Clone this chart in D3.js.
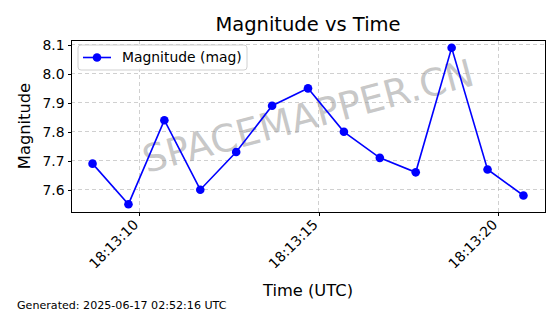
<!DOCTYPE html>
<html>
<head>
<meta charset="utf-8" />
<title>Magnitude vs Time</title>
<script src="https://d3js.org/d3.v7.min.js"></script>
<style>
    body { margin: 0; background: #fff; font-family: "DejaVu Sans", sans-serif; }
    .axis path, .axis line { stroke: #000; shape-rendering: crispEdges; }
    .axis text { fill: #000; font-size: 13.9px; font-family: "DejaVu Sans", sans-serif; }
    .grid line { stroke: #b0b0b0; stroke-opacity: 0.6; stroke-dasharray: 4 3; shape-rendering: crispEdges; }
</style>
</head>
<body>
<div id="chart"></div>
<script>
    // seconds after 18:13:00 UTC
    var times = [8.7, 9.7, 10.7, 11.7, 12.7, 13.7, 14.7, 15.7, 16.7, 17.7, 18.7, 19.7, 20.7];
    var magnitudes = [7.69, 7.55, 7.84, 7.60, 7.73, 7.89, 7.95, 7.80, 7.71, 7.66, 8.09, 7.67, 7.58];
    var xTicks = [10, 15, 20];
    var yTicks = [7.6, 7.7, 7.8, 7.9, 8.0, 8.1];

    var base = Date.UTC(2025, 5, 16, 18, 13, 0);
    var data = times.map(function (t, i) {
        return { time: new Date(base + t * 1000), mag: magnitudes[i] };
    });

    var W = 560, H = 314;
    var margin = { top: 40, right: 15, bottom: 102, left: 71 };
    var width = W - margin.left - margin.right,
        height = H - margin.top - margin.bottom;

    var svg = d3.select("#chart").append("svg")
        .attr("width", W).attr("height", H);

    var g = svg.append("g")
        .attr("transform", "translate(" + margin.left + "," + margin.top + ")");

    // matplotlib style 5% margins
    var tExt = d3.extent(data, function (d) { return +d.time; });
    var tPad = (tExt[1] - tExt[0]) * 0.05;
    var x = d3.scaleUtc()
        .domain([new Date(tExt[0] - tPad), new Date(tExt[1] + tPad)])
        .range([0, width]);

    var mExt = d3.extent(magnitudes);
    var mPad = (mExt[1] - mExt[0]) * 0.05;
    var y = d3.scaleLinear()
        .domain([mExt[0] - mPad, mExt[1] + mPad])
        .range([height, 0]);

    var xTickDates = xTicks.map(function (s) { return new Date(base + s * 1000); });

    // grid
    g.append("g").attr("class", "grid")
        .selectAll("line").data(xTickDates).enter().append("line")
        .attr("x1", function (d) { return x(d); }).attr("x2", function (d) { return x(d); })
        .attr("y1", 0).attr("y2", height);
    g.append("g").attr("class", "grid")
        .selectAll("line").data(yTicks).enter().append("line")
        .attr("y1", function (d) { return y(d); }).attr("y2", function (d) { return y(d); })
        .attr("x1", 0).attr("x2", width);

    // watermark
    g.append("text")
        .attr("transform", "translate(" + (width / 2) + "," + (height / 2 - 10) + ") rotate(-15)")
        .attr("text-anchor", "middle")
        .attr("dy", "0.35em")
        .style("font-size", "38px")
        .style("fill", "#999")
        .style("fill-opacity", 0.55)
        .text("SPACEMAPPER.CN");

    // axes
    var xAxis = d3.axisBottom(x).tickValues(xTickDates)
        .tickFormat(d3.utcFormat("%H:%M:%S")).tickSize(3.5).tickPadding(3);
    var gx = g.append("g").attr("class", "axis")
        .attr("transform", "translate(0," + height + ")")
        .call(xAxis);
    gx.selectAll("text")
        .attr("text-anchor", "end")
        .attr("dy", "0.35em")
        .attr("transform", "translate(-4,10) rotate(-45)")
        .attr("y", 0).attr("x", 0);

    var yAxis = d3.axisLeft(y).tickValues(yTicks)
        .tickFormat(d3.format(".1f")).tickSize(3.5).tickPadding(3);
    g.append("g").attr("class", "axis").call(yAxis);

    g.selectAll(".axis .domain").remove();
    g.append("rect")
        .attr("width", width).attr("height", height)
        .attr("fill", "none").attr("stroke", "#000").attr("stroke-width", 1)
        .style("shape-rendering", "crispEdges");

    // line + markers
    var line = d3.line()
        .x(function (d) { return x(d.time); })
        .y(function (d) { return y(d.mag); });
    g.append("path").datum(data)
        .attr("d", line)
        .attr("fill", "none").attr("stroke", "#0000ff").attr("stroke-width", 1.6);
    g.selectAll(".dot").data(data).enter().append("circle")
        .attr("class", "dot")
        .attr("cx", function (d) { return x(d.time); })
        .attr("cy", function (d) { return y(d.mag); })
        .attr("r", 4.3)
        .attr("fill", "#0000ff");

    // legend
    var lg = g.append("g").attr("transform", "translate(7,5)");
    lg.append("rect").attr("width", 169).attr("height", 25).attr("rx", 3)
        .attr("fill", "#fff").attr("fill-opacity", 0.8)
        .attr("stroke", "#d0d0d0");
    lg.append("line").attr("x1", 5).attr("x2", 33).attr("y1", 12.5).attr("y2", 12.5)
        .attr("stroke", "#0000ff").attr("stroke-width", 1.6);
    lg.append("circle").attr("cx", 19).attr("cy", 12.5).attr("r", 4.3).attr("fill", "#0000ff");
    lg.append("text").attr("x", 44).attr("y", 12.5).attr("dy", "0.35em")
        .style("font-size", "13.9px").text("Magnitude (mag)");

    // titles
    svg.append("text")
        .attr("x", margin.left + width / 2).attr("y", 31)
        .attr("text-anchor", "middle")
        .style("font-size", "19.5px")
        .text("Magnitude vs Time");
    svg.append("text")
        .attr("x", margin.left + width / 2).attr("y", 296)
        .attr("text-anchor", "middle")
        .style("font-size", "16.3px")
        .text("Time (UTC)");
    svg.append("text")
        .attr("transform", "translate(30," + (margin.top + height / 2) + ") rotate(-90)")
        .attr("text-anchor", "middle")
        .style("font-size", "16.3px")
        .text("Magnitude");
    svg.append("text")
        .attr("x", 17).attr("y", 309)
        .style("font-size", "11.1px")
        .text("Generated: 2025-06-17 02:52:16 UTC");
</script>
</body>
</html>
